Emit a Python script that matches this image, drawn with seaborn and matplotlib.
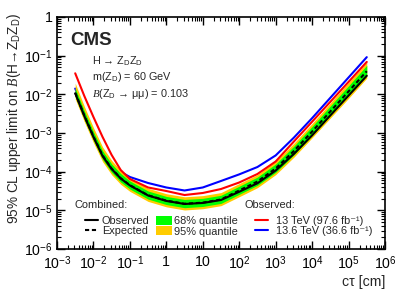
import numpy as np
import pandas as pd
import matplotlib
matplotlib.use("Agg")
import matplotlib.pyplot as plt
import matplotlib.ticker as mticker
from matplotlib.lines import Line2D
from matplotlib.patches import Patch
import seaborn as sns

# ---------------- data ----------------
ctau = [3.16e-3, 5.62e-3, 1e-2, 1.78e-2, 3.16e-2, 5.62e-2, 0.1, 0.316, 1.0, 3.16,
        10.0, 31.6, 100.0, 316.0, 1000.0, 3160.0, 1e4, 3.16e4, 1e5, 3.16e5]
observed = [1.06e-2, 2.75e-3, 7.89e-4, 2.54e-4, 1.17e-4, 6.65e-5, 4.40e-5, 2.42e-5, 1.75e-5, 1.46e-5,
            1.55e-5, 1.85e-5, 3.02e-5, 5.01e-5, 1.07e-4, 2.88e-4, 8.71e-4, 2.85e-3, 9.29e-3, 3.02e-2]
expected = [1.10e-2, 2.82e-3, 8.13e-4, 2.63e-4, 1.20e-4, 6.76e-5, 4.47e-5, 2.45e-5, 1.78e-5, 1.48e-5,
            1.58e-5, 1.91e-5, 3.26e-5, 5.57e-5, 1.21e-4, 3.43e-4, 1.09e-3, 3.61e-3, 1.19e-2, 3.96e-2]
green_hi = [1.45e-2, 3.72e-3, 1.07e-3, 3.47e-4, 1.58e-4, 8.91e-5, 5.75e-5, 3.16e-5, 2.29e-5, 1.91e-5,
            2.04e-5, 2.45e-5, 4.20e-5, 7.24e-5, 1.58e-4, 4.57e-4, 1.48e-3, 5.01e-3, 1.66e-2, 5.62e-2]
green_lo = [8.71e-3, 2.24e-3, 6.46e-4, 2.09e-4, 9.55e-5, 5.37e-5, 3.55e-5, 1.95e-5, 1.41e-5, 1.17e-5,
            1.26e-5, 1.51e-5, 2.59e-5, 4.43e-5, 9.59e-5, 2.72e-4, 8.63e-4, 2.86e-3, 9.48e-3, 3.15e-2]
yellow_hi = [1.95e-2, 4.90e-3, 1.38e-3, 4.37e-4, 1.95e-4, 1.07e-4, 6.92e-5, 3.72e-5, 2.69e-5, 2.24e-5,
             2.40e-5, 2.88e-5, 4.93e-5, 8.43e-5, 1.87e-4, 5.43e-4, 1.76e-3, 5.98e-3, 2.03e-2, 6.73e-2]
yellow_lo = [7.59e-3, 1.95e-3, 5.62e-4, 1.82e-4, 8.32e-5, 4.68e-5, 3.09e-5, 1.70e-5, 1.23e-5, 1.02e-5,
             1.10e-5, 1.32e-5, 2.25e-5, 3.85e-5, 8.36e-5, 2.37e-4, 7.52e-4, 2.44e-3, 7.89e-3, 2.62e-2]
obs_13 = [3.50e-2, 9.06e-3, 2.59e-3, 7.89e-4, 2.70e-4, 1.10e-4, 6.47e-5, 3.90e-5, 3.16e-5, 2.49e-5,
          2.81e-5, 3.56e-5, 5.25e-5, 8.71e-5, 1.83e-4, 6.03e-4, 1.96e-3, 6.41e-3, 2.10e-2, 6.89e-2]
obs_136 = [1.41e-2, 3.80e-3, 1.07e-3, 3.55e-4, 1.67e-4, 9.82e-5, 7.28e-5, 5.09e-5, 3.90e-5, 3.26e-5,
           3.90e-5, 5.74e-5, 8.51e-5, 1.32e-4, 2.63e-4, 7.59e-4, 2.42e-3, 8.13e-3, 2.73e-2, 9.16e-2]

x_major = [1e-3, 1e-2, 1e-1, 1, 10, 1e2, 1e3, 1e4, 1e5, 1e6]
x_labels = ["$10^{-3}$", "$10^{-2}$", "$10^{-1}$", "1", "10", "$10^{2}$", "$10^{3}$",
            "$10^{4}$", "$10^{5}$", "$10^{6}$"]
y_major = [1e-6, 1e-5, 1e-4, 1e-3, 1e-2, 1e-1, 1]
y_labels = ["$10^{-6}$", "$10^{-5}$", "$10^{-4}$", "$10^{-3}$", "$10^{-2}$", "$10^{-1}$", "1"]

df = pd.DataFrame({"ctau": ctau, "observed": observed, "expected": expected,
                   "obs13": obs_13, "obs136": obs_136})

# ---------------- style ----------------
sns.set_theme(style="ticks")
plt.rcParams["font.family"] = ["Liberation Sans", "DejaVu Sans"]
plt.rcParams["mathtext.fontset"] = "custom"
plt.rcParams["mathtext.rm"] = "Liberation Sans"
plt.rcParams["mathtext.it"] = "Liberation Serif:italic"
plt.rcParams["mathtext.bf"] = "Liberation Sans:bold"

DPI = 100
fig = plt.figure(figsize=(4.02, 2.89), dpi=DPI)
W, H = 402, 289
L, R, T, B = 57, 385, 17, 249
ax = fig.add_axes([L / W, 1 - B / H, (R - L) / W, (B - T) / H])

GREEN = "#00ff00"
YELLOW = "#ffcc00"

ax.fill_between(df["ctau"], yellow_lo, yellow_hi, color=YELLOW, lw=0, zorder=2)
ax.fill_between(df["ctau"], green_lo, green_hi, color=GREEN, lw=0, zorder=2.1)

sns.lineplot(data=df, x="ctau", y="obs136", ax=ax, color="#0000ff", lw=1.5, zorder=1.5)
sns.lineplot(data=df, x="ctau", y="observed", ax=ax, color="black", lw=1.5, zorder=3)
sns.lineplot(data=df, x="ctau", y="expected", ax=ax, color="black", lw=1.5,
             linestyle=(0, (2, 1.3)), zorder=3.1)
sns.lineplot(data=df, x="ctau", y="obs13", ax=ax, color="#ff0000", lw=1.5, zorder=4)

ax.set_xscale("log")
ax.set_yscale("log")
ax.set_xlim(1e-3, 1e6)
ax.set_ylim(1e-6, 1)

ax.xaxis.set_major_locator(mticker.FixedLocator(x_major))
ax.xaxis.set_major_formatter(mticker.FixedFormatter(x_labels))
ax.yaxis.set_major_locator(mticker.FixedLocator(y_major))
ax.yaxis.set_major_formatter(mticker.FixedFormatter(y_labels))
ax.xaxis.set_minor_locator(mticker.LogLocator(base=10, subs=np.arange(2, 10), numticks=100))
ax.yaxis.set_minor_locator(mticker.LogLocator(base=10, subs=np.arange(2, 10), numticks=100))
ax.xaxis.set_minor_formatter(mticker.NullFormatter())
ax.yaxis.set_minor_formatter(mticker.NullFormatter())

ax.tick_params(which="both", direction="in", top=True, right=True, colors="black")
ax.tick_params(which="major", length=5.5, width=1.0, labelsize=10.2)
ax.tick_params(which="minor", length=3, width=0.8)
ax.tick_params(axis="y", which="major", pad=3)
ax.tick_params(axis="x", which="major", pad=4)
for s in ax.spines.values():
    s.set_linewidth(1.2)
    s.set_color("black")

ax.set_xlabel("cτ [cm]", fontsize=10.2, loc="right")
ax.xaxis.set_label_coords(1.0, -0.11)
ax.set_ylabel(r"95% CL upper limit on $\mathit{B}$(H→Z$_{\rm D}$Z$_{\rm D}$)", fontsize=9.8, loc="top")
ax.yaxis.set_label_coords(-0.103, 1.017)


def axc(px, py):
    return (px - L) / (R - L), (B - py) / (B - T)


ax.text(*axc(70, 44.7), "CMS", fontsize=13.5, fontweight="bold", transform=ax.transAxes,
        va="baseline", ha="left")
ax.text(*axc(91.7, 64), r"H → Z$_{\rm D}$Z$_{\rm D}$", fontsize=7.8, transform=ax.transAxes,
        va="baseline", ha="left")
ax.text(*axc(91.7, 80.5), r"m(Z$_{\rm D}$) = 60 GeV", fontsize=7.8, transform=ax.transAxes,
        va="baseline", ha="left")
ax.text(*axc(91.7, 97), r"$\mathit{B}$(Z$_{\rm D}$ → μμ) = 0.103", fontsize=7.8,
        transform=ax.transAxes, va="baseline", ha="left")

ax.text(*axc(75, 208.5), "Combined:", fontsize=7.9, transform=ax.transAxes, va="baseline", ha="left")
ax.text(*axc(245, 208), "Observed:", fontsize=7.9, transform=ax.transAxes, va="baseline", ha="left")

LFS = 7.9
h_obs = Line2D([], [], color="black", lw=1.5)
h_exp = Line2D([], [], color="black", lw=1.5, linestyle=(0, (2, 1.3)))
leg1 = ax.legend([h_obs, h_exp], ["Observed", "Expected"], loc="upper left",
                 bbox_to_anchor=axc(85, 216), bbox_transform=ax.transAxes, frameon=False,
                 fontsize=LFS, borderpad=0, borderaxespad=0, handlelength=1.18,
                 handletextpad=0.34, labelspacing=0.02)
ax.add_artist(leg1)
h_g = Patch(facecolor=GREEN, edgecolor="none")
h_y = Patch(facecolor=YELLOW, edgecolor="none")
leg2 = ax.legend([h_g, h_y], ["68% quantile", "95% quantile"], loc="upper left",
                 bbox_to_anchor=axc(156, 216), bbox_transform=ax.transAxes, frameon=False,
                 fontsize=LFS, borderpad=0, borderaxespad=0, handlelength=1.45,
                 handleheight=0.85, handletextpad=0.15, labelspacing=0.02)
ax.add_artist(leg2)
h_r = Line2D([], [], color="#ff0000", lw=1.5)
h_b = Line2D([], [], color="#0000ff", lw=1.5)
leg3 = ax.legend([h_r, h_b], ["13 TeV (97.6 fb⁻¹)", "13.6 TeV (36.6 fb⁻¹)"],
                 loc="upper left", bbox_to_anchor=axc(255, 216), bbox_transform=ax.transAxes,
                 frameon=False, fontsize=LFS, borderpad=0, borderaxespad=0, handlelength=1.18,
                 handletextpad=0.7, labelspacing=0.02)

fig.savefig("out.png", dpi=DPI)
